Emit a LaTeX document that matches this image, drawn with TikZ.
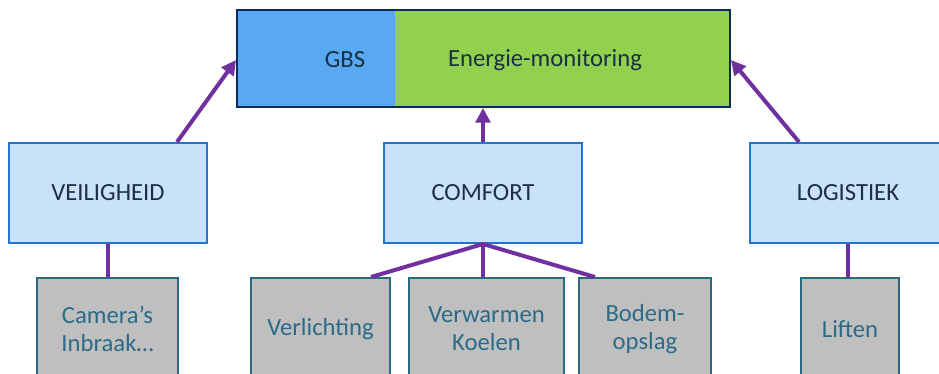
\documentclass[tikz,border=0pt]{standalone}
\usepackage{fontspec}
\setmainfont{Carlito}
\usetikzlibrary{arrows.meta,calc}
\definecolor{topblue}{HTML}{58A9F1}
\definecolor{topgreen}{HTML}{92D050}
\definecolor{navy}{HTML}{0C2A5E}
\definecolor{lblue}{HTML}{C9E2F9}
\definecolor{lblueb}{HTML}{1F76CC}
\definecolor{gfill}{HTML}{BFBFBF}
\definecolor{gbord}{HTML}{2A6A84}
\definecolor{gtext}{HTML}{2B6A88}
\definecolor{dtext}{HTML}{1A3142}
\definecolor{purp}{HTML}{7030A0}
\tikzset{
  catbox/.style={draw=lblueb, fill=lblue, line width=1.5pt, rectangle, minimum height=100*0.75pt, text=dtext, font=\fontsize{18.5}{21}\selectfont, inner sep=0pt},
  itembox/.style={draw=gbord, fill=gfill, line width=1.5pt, rectangle, minimum height=102*0.75pt, text=gtext, font=\fontsize{18.5}{21}\selectfont, align=center, inner sep=0pt},
  link/.style={draw=purp, line width=3pt},
  uparrow/.style={link, -{Triangle[length=11pt,width=11pt]}},
  toplabel/.style={text=dtext, font=\fontsize{18.5}{21}\selectfont, inner sep=0pt}
}
\begin{document}
\begin{tikzpicture}[x=0.75pt,y=-0.75pt]
\useasboundingbox (0,0) rectangle (939,374);
\clip (0,0) rectangle (939,374);
% top box
\fill[topblue] (237,10) rectangle (395,107);
\fill[topgreen] (395,10) rectangle (730,107);
\node[draw=navy, line width=1.5pt, rectangle, minimum width=493*0.75pt, minimum height=97*0.75pt, inner sep=0pt] (top) at (483.5,58.5) {};
\node[toplabel] (gbs) at (345,60) {GBS};
\node[toplabel] (energie) at (545,60) {Energie-monitoring};
% categories
\node[catbox, minimum width=198*0.75pt] (veil) at (108,193) {VEILIGHEID};
\node[catbox, minimum width=198*0.75pt] (comf) at (483,193) {COMFORT};
\node[catbox, minimum width=196*0.75pt] (logi) at (848,193) {LOGISTIEK};
% items
\node[itembox, minimum width=141*0.75pt] (cam) at (107.5,329) {Camera’s\\Inbraak…};
\node[itembox, minimum width=139*0.75pt] (verl) at (320.5,329) {Verlichting};
\node[itembox, minimum width=155*0.75pt] (verw) at (486.5,329) {Verwarmen\\Koelen};
\node[itembox, minimum width=132*0.75pt] (bod) at (645,329) {Bodem-\\opslag};
\node[itembox, minimum width=98*0.75pt] (lift) at (850,329) {Liften};
% arrows up
\draw[uparrow] ($(veil.north)+(69,0)$) -- ($(top.west)+(0,1.5)$);
\draw[uparrow] (comf.north) -- (top.south -| comf.north);
\draw[uparrow] ($(logi.north)+(-49,0)$) -- ($(top.east)+(0,1.5)$);
% links down
\draw[link] (veil.south) -- (cam.north -| veil.south);
\draw[link] (comf.south) -- ($(verl.north east)+(-20,0)$);
\draw[link] (comf.south) -- (verw.north -| comf.south);
\draw[link] (comf.south) -- ($(bod.north west)+(17,0)$);
\draw[link] (logi.south) -- (lift.north -| logi.south);
\end{tikzpicture}
\end{document}
